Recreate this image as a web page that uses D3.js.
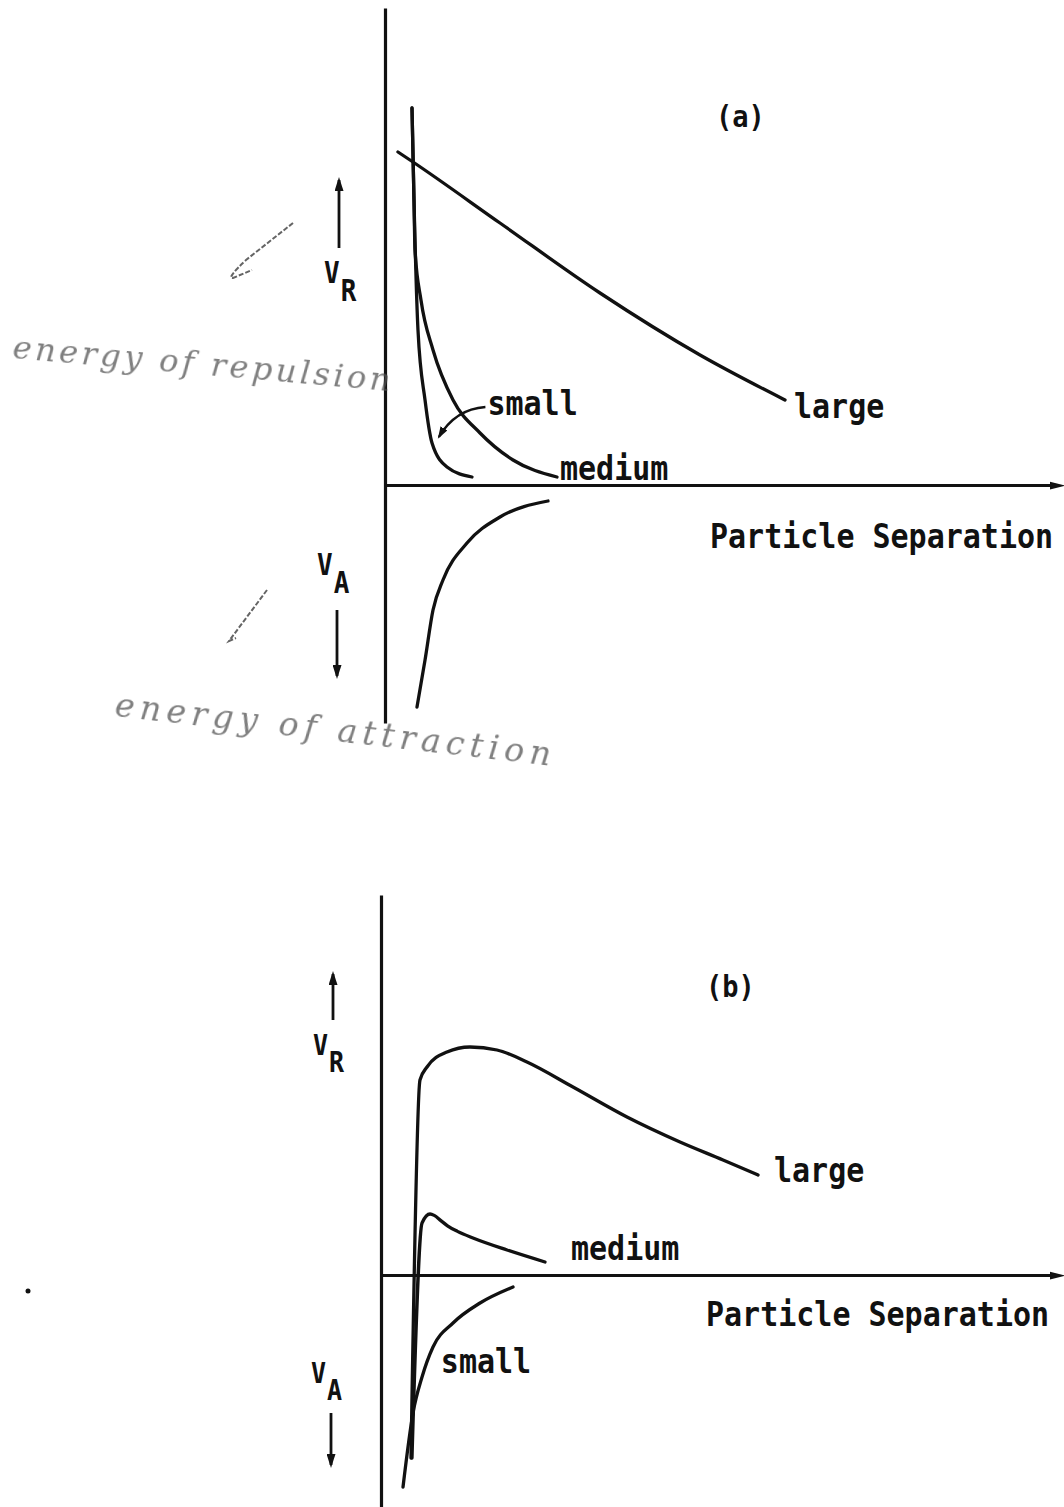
<!DOCTYPE html>
<html><head><meta charset="utf-8">
<script src="https://cdn.jsdelivr.net/npm/d3@7"></script>
<style>html,body{margin:0;background:#fff}</style>
</head><body>
<svg id="fig" width="1064" height="1507"></svg>
<script>
// Interaction energy between particles vs. their separation.
// x: separation (arbitrary units), y: energy (repulsion > 0, attraction < 0).

// (a) repulsion curves for three particle sizes, plus the attraction curve
const aSmall  = [[0.406,9.425],[0.436,7.125],[0.496,3.875],[0.602,2.125],[0.707,1.05],[0.932,0.45],[1.308,0.2]];
const aMedium = [[0.406,9.425],[0.436,7.125],[0.451,5.875],[0.541,4.625],[0.722,3.375],[1.023,2.125],[1.429,1.3],[1.925,0.625],[2.586,0.2]];
const aLarge  = [[0.195,8.325],[0.421,8.075],[1.729,6.55],[3.233,4.8],[4.737,3.25],[6.015,2.125]];
const aAttraction = [[0.481,-5.55],[0.602,-4.375],[0.722,-3.125],[0.872,-2.375],[1.233,-1.45],[1.729,-0.8],[2.451,-0.4]];

// (b) net energy curves
const bLarge  = [[0.451,-4.575],[0.586,4.875],[0.692,5.2],[0.992,5.575],[1.338,5.7],[1.744,5.625],[2.195,5.325],[2.887,4.7],[3.699,3.95],[4.496,3.325],[5.143,2.875],[5.669,2.5]];
const bMedium = [[0.466,-4.575],[0.617,1.3],[0.737,1.525],[0.80,1.49],[0.90,1.36],[1.0,1.23],[1.15,1.09],[1.383,0.925],[1.895,0.625],[2.466,0.325]];
const bSmall  = [[0.331,-5.3],[0.481,-3.45],[0.617,-2.55],[0.782,-1.8],[1.083,-1.2],[1.489,-0.7],[1.985,-0.3]];

const sizeLabels = ["small", "medium", "large"];
const xTitle = "Particle Separation";
const panelTags = ["(a)", "(b)"];
const notes = ["energy of repulsion", "energy of attraction"];

const svg = d3.select("#fig");
const MONO = "'DejaVu Sans Mono', monospace";
const FS = 30;        // typed label size (advance ≈ 18px per character)
const STRETCH = 1.13; // typewriter face is taller than it is wide

const defs = svg.append("defs");
defs.append("marker").attr("id","axisHead")
  .attr("markerUnits","userSpaceOnUse").attr("viewBox","0 0 16 10")
  .attr("refX",1).attr("refY",5).attr("markerWidth",16).attr("markerHeight",10)
  .attr("orient","auto")
  .append("path").attr("d","M0,1 L16,5 L0,9 Z").attr("fill","#111");
defs.append("marker").attr("id","smallHead")
  .attr("markerUnits","userSpaceOnUse").attr("viewBox","0 0 12 8")
  .attr("refX",10).attr("refY",4).attr("markerWidth",12).attr("markerHeight",8)
  .attr("orient","auto")
  .append("path").attr("d","M0,0 L12,4 L0,8 Z").attr("fill","#111");
defs.append("marker").attr("id","vHead")
  .attr("markerUnits","userSpaceOnUse").attr("viewBox","0 0 14 9")
  .attr("refX",11).attr("refY",4.5).attr("markerWidth",14).attr("markerHeight",9)
  .attr("orient","auto")
  .append("path").attr("d","M0,0 L14,4.5 L0,9 Z").attr("fill","#111");

function typed(g, text, x, y, size) {
  return g.append("text")
    .attr("transform", `translate(${x},${y}) scale(1,${STRETCH})`)
    .attr("font-family", MONO).attr("font-weight", "bold").attr("font-size", size)
    .attr("fill", "#111").text(text);
}

function drawAxes(g, x, y) {
  g.append("g").attr("transform", `translate(0,${y(0)})`)
    .call(d3.axisBottom(x).tickValues([]).tickSizeOuter(0))
    .call(a => a.select(".domain").attr("stroke","#111").attr("stroke-width",3)
      .attr("marker-end","url(#axisHead)"));
  g.append("g").attr("transform", `translate(${x(0)},0)`)
    .call(d3.axisLeft(y).tickValues([]).tickSizeOuter(0))
    .call(a => a.select(".domain").attr("stroke","#111").attr("stroke-width",3.2));
}

function curve(g, x, y, data, w) {
  const line = d3.line().x(d => x(d[0])).y(d => y(d[1])).curve(d3.curveMonotoneX);
  g.append("path").datum(data).attr("d", line)
    .attr("fill","none").attr("stroke","#111").attr("stroke-width", w || 3.3)
    .attr("stroke-linecap","round").attr("stroke-linejoin","round");
}

function vArrow(g, cx, y1, y2) {
  g.append("line").attr("x1",cx).attr("x2",cx).attr("y1",y1).attr("y2",y2)
    .attr("stroke","#111").attr("stroke-width",2.8).attr("marker-end","url(#vHead)");
}

function vLabel(g, sub, x, y, size) {
  typed(g, "V", x, y, size);
  typed(g, sub, x + size * 0.64, y + size * 0.68, size);
}

// ---------- panel (a) ----------
{
  const g = svg.append("g");
  const x = d3.scaleLinear([0, 10], [385, 1050]);
  const y = d3.scaleLinear([-5.95, 11.925], [723, 8]);
  drawAxes(g, x, y);
  curve(g, x, y, aSmall);
  curve(g, x, y, aMedium);
  curve(g, x, y, aLarge);
  curve(g, x, y, aAttraction);

  const endL = aLarge[aLarge.length - 1], endM = aMedium[aMedium.length - 1];
  typed(g, sizeLabels[2], x(endL[0]) + 9, y(endL[1]) + 18, FS);
  typed(g, sizeLabels[1], x(endM[0]) + 3, y(endM[1]) + 3, FS);
  typed(g, sizeLabels[0], x(1.54), y(1.75), FS);
  // leader from the "small" label to its curve
  g.append("path")
    .attr("d", `M${x(1.51)},${y(1.95)} Q${x(1.06)},${y(1.9)} ${x(0.81)},${y(1.2)}`)
    .attr("fill","none").attr("stroke","#111").attr("stroke-width",2.4)
    .attr("marker-end","url(#smallHead)");

  typed(g, xTitle, 710, y(0) + 63, FS);
  typed(g, panelTags[0], 716, 127, 27);

  vArrow(g, 339, 248, 180);
  vLabel(g, "R", 324, 283, 26);
  vLabel(g, "A", 317, 575, 26);
  vArrow(g, 337, 610, 676);

  // pencilled notes
  const pencil = svg.append("g").attr("fill","#555").attr("opacity",0.75);
  pencil.append("text").attr("font-family","'DejaVu Serif', serif").attr("font-style","italic")
    .attr("font-size",32).attr("transform","translate(12,358) rotate(5)")
    .attr("letter-spacing",3.5).text(notes[0]);
  pencil.append("text").attr("font-family","'DejaVu Serif', serif").attr("font-style","italic")
    .attr("font-size",33).attr("transform","translate(114,716) rotate(6.5)")
    .attr("letter-spacing",5.5).text(notes[1]);
  const tick = svg.append("g").attr("fill","none").attr("stroke","#4a4a4a")
    .attr("stroke-width",2).attr("stroke-dasharray","5 2").attr("opacity",0.85);
  tick.append("path").attr("d","M293,223 L246,260 Q226,279 233,278 L252,270");
  tick.append("path").attr("d","M267,590 L229,641 L236,638");
}

// ---------- panel (b) ----------
{
  const g = svg.append("g");
  const x = d3.scaleLinear([0, 10.06], [381, 1050]);
  const y = d3.scaleLinear([-5.8, 9.5], [1507, 895]);
  drawAxes(g, x, y);
  curve(g, x, y, bLarge);
  curve(g, x, y, bMedium);
  curve(g, x, y, bSmall);

  const endL = bLarge[bLarge.length - 1], endM = bMedium[bMedium.length - 1];
  typed(g, sizeLabels[2], x(endL[0]) + 16, y(endL[1]) + 7, FS);
  typed(g, sizeLabels[1], x(endM[0]) + 26, y(endM[1]) - 2, FS);
  typed(g, sizeLabels[0], x(0.9), y(-2.45), FS);

  typed(g, xTitle, 706, y(0) + 51, FS);
  typed(g, panelTags[1], 706, 997, 27);

  vArrow(g, 333, 1020, 974);
  vLabel(g, "R", 313, 1055, 25);
  vLabel(g, "A", 311, 1383, 25);
  vArrow(g, 331, 1413, 1465);

  svg.append("circle").attr("cx",28).attr("cy",1291).attr("r",2.5).attr("fill","#111");
}
</script>
</body></html>
